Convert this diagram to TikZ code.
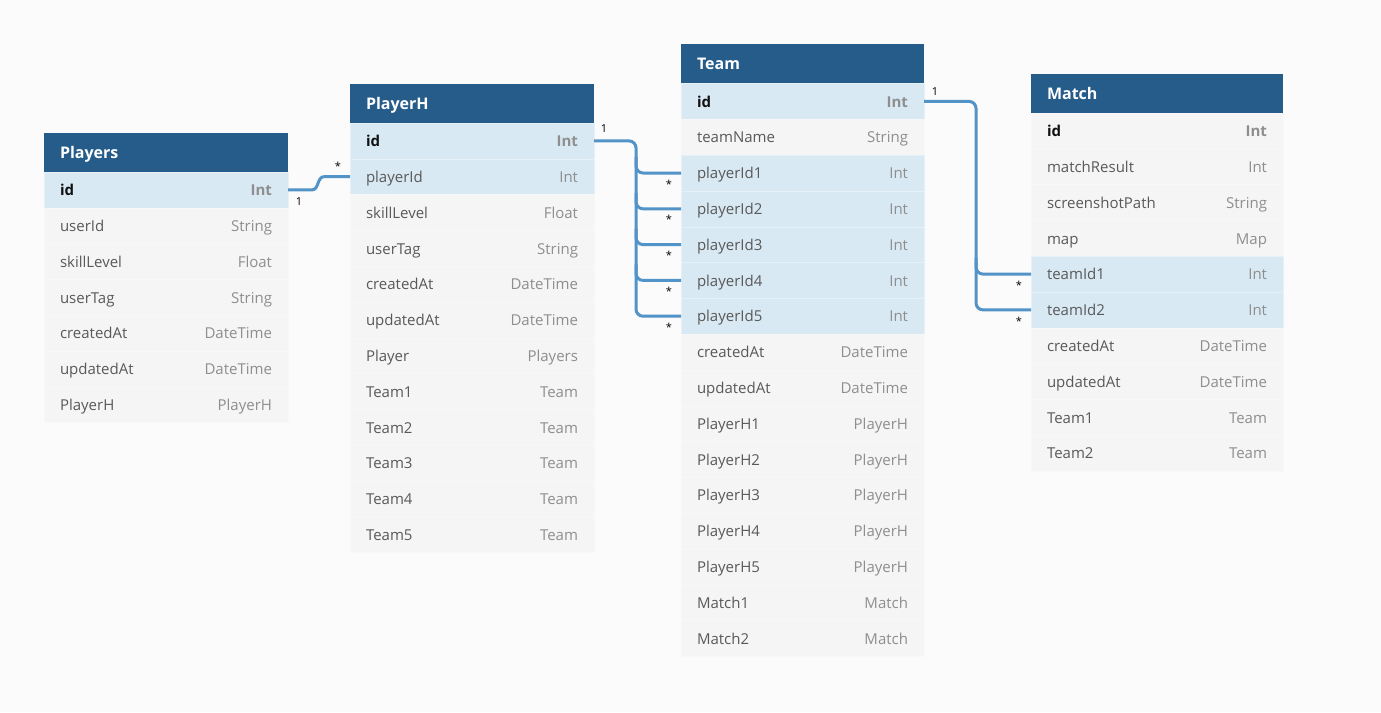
\documentclass[tikz,border=0pt]{standalone}
\usepackage{fontspec}
\setmainfont{Open Sans}
\usetikzlibrary{calc}
\definecolor{hdr}{HTML}{265C8A}
\definecolor{hlc}{HTML}{D8E9F3}
\definecolor{rowc}{HTML}{F5F5F5}
\definecolor{bgc}{HTML}{FBFBFB}
\definecolor{namec}{HTML}{595959}
\definecolor{typec}{HTML}{8E8E8E}
\definecolor{idc}{HTML}{111111}
\definecolor{conn}{HTML}{5293C8}
\newlength\fw
\newcommand\rowfont{\fontsize{15}{18}\selectfont}
\newcommand\headfont{\fontsize{16}{19}\selectfont\bfseries}
\newcommand\fld[2]{\makebox[\fw][l]{#1\hfill\textcolor{typec}{#2}}}
\newcommand\idfld[1]{\makebox[\fw][l]{\textbf{\textcolor{idc}{id}}\hfill\textcolor{typec}{\textbf{#1}}}}
\begin{document}
\begin{tikzpicture}[x=1pt,y=-1pt,
  base/.style={anchor=north west, inner xsep=16pt, inner ysep=0pt, outer sep=0pt, text height=14.5pt, text depth=3pt},
  ehead/.style={base, fill=hdr, text=white, font=\headfont, minimum height=39.5pt},
  erow/.style={base, fill=rowc, text=namec, font=\rowfont, minimum height=35.8pt, draw=white!35!rowc, line width=0.4pt},
  hl/.style={fill=hlc, draw=white!35!hlc},
  conline/.style={draw=conn, line width=3pt, rounded corners=7pt},
  card/.style={font=\fontsize{11}{13}\selectfont, text=black, inner sep=0pt}
]
\fill[bgc] (0,0) rectangle (1381,712);
\useasboundingbox (0,0) rectangle (1381,712);

% ---------------- Players
\setlength\fw{212pt}
\node[ehead, minimum width=244pt, text width=212pt] (P-h) at (44,132.5) {Players};
\node[erow, hl, minimum width=244pt] (P-id) at (P-h.south west) {\idfld{Int}};
\node[erow, minimum width=244pt] (P-uid) at (P-id.south west) {\fld{userId}{String}};
\node[erow, minimum width=244pt] (P-sk) at (P-uid.south west) {\fld{skillLevel}{Float}};
\node[erow, minimum width=244pt] (P-ut) at (P-sk.south west) {\fld{userTag}{String}};
\node[erow, minimum width=244pt] (P-ca) at (P-ut.south west) {\fld{createdAt}{DateTime}};
\node[erow, minimum width=244pt] (P-ua) at (P-ca.south west) {\fld{updatedAt}{DateTime}};
\node[erow, minimum width=244pt] (P-ph) at (P-ua.south west) {\fld{PlayerH}{PlayerH}};

% ---------------- PlayerH
\node[ehead, minimum width=244pt, text width=212pt] (H-h) at (350,83.5) {PlayerH};
\node[erow, hl, minimum width=244pt] (H-id) at (H-h.south west) {\idfld{Int}};
\node[erow, hl, minimum width=244pt] (H-pid) at (H-id.south west) {\fld{playerId}{Int}};
\node[erow, minimum width=244pt] (H-sk) at (H-pid.south west) {\fld{skillLevel}{Float}};
\node[erow, minimum width=244pt] (H-ut) at (H-sk.south west) {\fld{userTag}{String}};
\node[erow, minimum width=244pt] (H-ca) at (H-ut.south west) {\fld{createdAt}{DateTime}};
\node[erow, minimum width=244pt] (H-ua) at (H-ca.south west) {\fld{updatedAt}{DateTime}};
\node[erow, minimum width=244pt] (H-pl) at (H-ua.south west) {\fld{Player}{Players}};
\node[erow, minimum width=244pt] (H-t1) at (H-pl.south west) {\fld{Team1}{Team}};
\node[erow, minimum width=244pt] (H-t2) at (H-t1.south west) {\fld{Team2}{Team}};
\node[erow, minimum width=244pt] (H-t3) at (H-t2.south west) {\fld{Team3}{Team}};
\node[erow, minimum width=244pt] (H-t4) at (H-t3.south west) {\fld{Team4}{Team}};
\node[erow, minimum width=244pt] (H-t5) at (H-t4.south west) {\fld{Team5}{Team}};

% ---------------- Team
\setlength\fw{211pt}
\node[ehead, minimum width=243pt, text width=211pt] (T-h) at (681,44) {Team};
\node[erow, hl, minimum width=243pt] (T-id) at (T-h.south west) {\idfld{Int}};
\node[erow, minimum width=243pt] (T-tn) at (T-id.south west) {\fld{teamName}{String}};
\node[erow, hl, minimum width=243pt] (T-p1) at (T-tn.south west) {\fld{playerId1}{Int}};
\node[erow, hl, minimum width=243pt] (T-p2) at (T-p1.south west) {\fld{playerId2}{Int}};
\node[erow, hl, minimum width=243pt] (T-p3) at (T-p2.south west) {\fld{playerId3}{Int}};
\node[erow, hl, minimum width=243pt] (T-p4) at (T-p3.south west) {\fld{playerId4}{Int}};
\node[erow, hl, minimum width=243pt] (T-p5) at (T-p4.south west) {\fld{playerId5}{Int}};
\node[erow, minimum width=243pt] (T-ca) at (T-p5.south west) {\fld{createdAt}{DateTime}};
\node[erow, minimum width=243pt] (T-ua) at (T-ca.south west) {\fld{updatedAt}{DateTime}};
\node[erow, minimum width=243pt] (T-h1) at (T-ua.south west) {\fld{PlayerH1}{PlayerH}};
\node[erow, minimum width=243pt] (T-h2) at (T-h1.south west) {\fld{PlayerH2}{PlayerH}};
\node[erow, minimum width=243pt] (T-h3) at (T-h2.south west) {\fld{PlayerH3}{PlayerH}};
\node[erow, minimum width=243pt] (T-h4) at (T-h3.south west) {\fld{PlayerH4}{PlayerH}};
\node[erow, minimum width=243pt] (T-h5) at (T-h4.south west) {\fld{PlayerH5}{PlayerH}};
\node[erow, minimum width=243pt] (T-m1) at (T-h5.south west) {\fld{Match1}{Match}};
\node[erow, minimum width=243pt] (T-m2) at (T-m1.south west) {\fld{Match2}{Match}};

% ---------------- Match
\setlength\fw{220pt}
\node[ehead, minimum width=252pt, text width=220pt] (M-h) at (1031,73.5) {Match};
\node[erow, minimum width=252pt] (M-id) at (M-h.south west) {\idfld{Int}};
\node[erow, minimum width=252pt] (M-mr) at (M-id.south west) {\fld{matchResult}{Int}};
\node[erow, minimum width=252pt] (M-sp) at (M-mr.south west) {\fld{screenshotPath}{String}};
\node[erow, minimum width=252pt] (M-map) at (M-sp.south west) {\fld{map}{Map}};
\node[erow, hl, minimum width=252pt] (M-t1) at (M-map.south west) {\fld{teamId1}{Int}};
\node[erow, hl, minimum width=252pt] (M-t2) at (M-t1.south west) {\fld{teamId2}{Int}};
\node[erow, minimum width=252pt] (M-ca) at (M-t2.south west) {\fld{createdAt}{DateTime}};
\node[erow, minimum width=252pt] (M-ua) at (M-ca.south west) {\fld{updatedAt}{DateTime}};
\node[erow, minimum width=252pt] (M-tm1) at (M-ua.south west) {\fld{Team1}{Team}};
\node[erow, minimum width=252pt] (M-tm2) at (M-tm1.south west) {\fld{Team2}{Team}};

% ---------------- connectors
\draw[conline, rounded corners=0pt] (P-id.east) -- ++(24,0)
  .. controls +(7,0) and +(-7,0) .. ($(H-pid.west)+(-26,0)$) -- (H-pid.west);
\node[card] at ($(P-id.east)+(11,12)$) {1};
\node[card] at ($(H-pid.west)+(-12,-10)$) {*};

\draw[conline] (H-id.east) -| ($(T-p5.west)+(-45,0)$) -- (T-p5.west);
\foreach \r in {T-p1,T-p2,T-p3,T-p4}{
  \draw[conline] ($(\r.west)+(-45,-16)$) |- (\r.west);
}
\node[card] at ($(H-id.east)+(10,-12)$) {1};
\foreach \r in {T-p1,T-p2,T-p3,T-p4,T-p5}{
  \node[card] at ($(\r.west)+(-12,11)$) {*};
}

\draw[conline] (T-id.east) -| ($(M-t2.west)+(-55,0)$) -- (M-t2.west);
\draw[conline] ($(M-t1.west)+(-55,-16)$) |- (M-t1.west);
\node[card] at ($(T-id.east)+(11,-10)$) {1};
\node[card] at ($(M-t1.west)+(-12,11)$) {*};
\node[card] at ($(M-t2.west)+(-12,11)$) {*};
\end{tikzpicture}
\end{document}
